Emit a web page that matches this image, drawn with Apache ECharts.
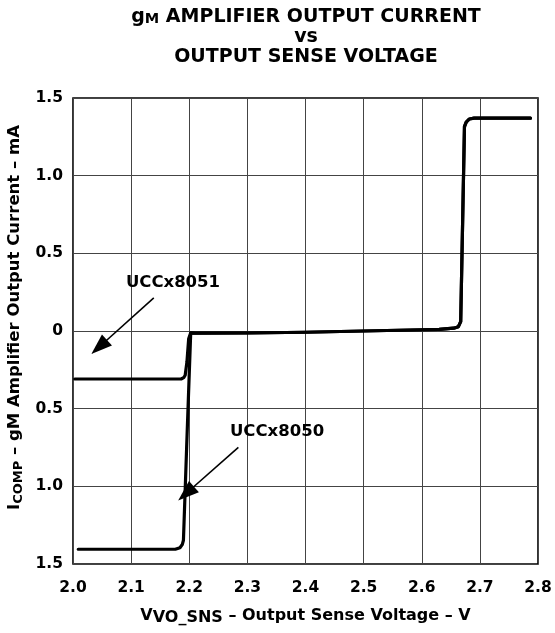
<!DOCTYPE html>
<html><head><meta charset="utf-8">
<script src="https://cdn.jsdelivr.net/npm/echarts@6/dist/echarts.min.js"></script>
<style>html,body{margin:0;padding:0;background:#fff}#c{width:555px;height:633px}</style>
</head><body><div id="c"></div>
<script>
// ---- data ----
const seriesNames = ['UCCx8051', 'UCCx8050'];
// UCCx8051 low-side plateau and rise, V (x) and mA (y)
const ucc8051 = [[2.003,-0.309],[2.186,-0.309],[2.1905,-0.300],[2.193,-0.285],[2.196,-0.200],[2.199,-0.050],[2.2025,-0.012]];
// UCCx8050 low-side plateau and rise
const ucc8050 = [[2.009,-1.405],[2.176,-1.405],[2.184,-1.395],[2.188,-1.375],[2.190,-1.347],[2.1955,-0.750],[2.2025,-0.012]];
// common part of both curves
const shared = [[2.2025,-0.012],[2.21,-0.014],[2.3,-0.013],[2.4,-0.008],[2.5,0.000],[2.6,0.008],[2.63,0.010],[2.655,0.018],[2.663,0.028],[2.667,0.060],[2.6735,1.316],[2.6765,1.345],[2.682,1.365],[2.69,1.370],[2.787,1.370]];
const xRange = [2.0, 2.8, 0.1];
const yRange = [-1.5, 1.5, 0.5];

// annotation anchors (data units)
const note8051 = {text: 'UCCx8051', at: [2.172, 0.309], from: [2.139, 0.213], to: [2.045, -0.103]};
const note8050 = {text: 'UCCx8050', at: [2.351, -0.651], from: [2.2845, -0.749], to: [2.1945, -1.046]};

const FONT = 'DejaVu Sans';
const chart = echarts.init(document.getElementById('c'), null, {renderer: 'canvas'});

function noteMarks(n) {
  return {
    markLine: {
      silent: true, animation: false,
      symbol: ['none', 'triangle'], symbolSize: [15, 21],
      label: {show: false},
      lineStyle: {color: '#000', width: 1.6, type: 'solid'},
      emphasis: {disabled: true},
      data: [[{coord: n.from}, {coord: n.to}]]
    },
    markPoint: {
      silent: true, animation: false,
      symbol: 'circle', symbolSize: 1,
      itemStyle: {color: 'rgba(0,0,0,0)'},
      label: {show: true, position: 'inside', formatter: n.text, color: '#000',
              fontFamily: FONT, fontWeight: 'bold', fontSize: 16.5},
      data: [{coord: n.at}]
    }
  };
}

const lineStyle = {color: '#000', width: 3.2, cap: 'round', join: 'round'};

chart.setOption({
  animation: false,
  backgroundColor: '#fff',
  title: {
    left: 306, top: 7, padding: 0, textAlign: 'center',
    text: '{a|g}{s|M}{a| AMPLIFIER OUTPUT CURRENT}\n{a|vs}\n{a|OUTPUT SENSE VOLTAGE}',
    textStyle: {
      rich: {
        a: {fontFamily: FONT, fontWeight: 'bold', fontSize: 19, lineHeight: 20, color: '#000'},
        s: {fontFamily: FONT, fontWeight: 'bold', fontSize: 14.5, lineHeight: 12, verticalAlign: 'bottom', color: '#000'}
      }
    }
  },
  grid: {left: 73, right: 17, top: 98, bottom: 69, containLabel: false, outerBoundsMode: 'none',
         show: true, borderColor: '#000', borderWidth: 1.6, backgroundColor: 'transparent'},
  xAxis: {
    type: 'value', min: xRange[0], max: xRange[1], interval: xRange[2],
    axisLine: {show: false}, axisTick: {show: false},
    splitLine: {show: true, lineStyle: {color: '#444', width: 1}},
    axisLabel: {margin: 16, color: '#000', fontFamily: FONT, fontWeight: 'bold', fontSize: 15.5,
                formatter: v => v.toFixed(1)},
    name: '{v|V}{sub|VO_SNS}{n| – Output Sense Voltage – V}',
    nameLocation: 'middle', nameGap: 42,
    nameTextStyle: {
      rich: {
        v: {fontFamily: FONT, fontWeight: 'bold', fontSize: 16, lineHeight: 20, color: '#000'},
        sub: {fontFamily: FONT, fontWeight: 'bold', fontSize: 16, lineHeight: 11, verticalAlign: 'bottom', color: '#000'},
        n: {fontFamily: FONT, fontWeight: 'bold', fontSize: 16, lineHeight: 20, color: '#000'}
      }
    }
  },
  yAxis: {
    type: 'value', min: yRange[0], max: yRange[1], interval: yRange[2],
    axisLine: {show: false}, axisTick: {show: false},
    splitLine: {show: true, lineStyle: {color: '#444', width: 1}},
    axisLabel: {margin: 10, color: '#000', fontFamily: FONT, fontWeight: 'bold', fontSize: 15.5,
                formatter: v => (Math.abs(v) < 1e-9 ? '0' : Math.abs(v).toFixed(1))},
    name: '{i|I}{sub|COMP}{n| – gM Amplifier Output Current – mA}',
    nameLocation: 'middle', nameGap: 48,
    nameTextStyle: {
      padding: [0, 0, 0, 27],
      rich: {
        i: {fontFamily: FONT, fontWeight: 'bold', fontSize: 16.5, lineHeight: 20, color: '#000'},
        sub: {fontFamily: FONT, fontWeight: 'bold', fontSize: 13, lineHeight: 12, verticalAlign: 'bottom', color: '#000'},
        n: {fontFamily: FONT, fontWeight: 'bold', fontSize: 16.5, lineHeight: 20, color: '#000'}
      }
    }
  },
  series: [
    Object.assign({
      name: seriesNames[0], type: 'line', showSymbol: false, symbol: 'none',
      data: ucc8051.concat(shared), lineStyle: lineStyle, silent: true, z: 3
    }, noteMarks(note8051)),
    Object.assign({
      name: seriesNames[1], type: 'line', showSymbol: false, symbol: 'none',
      data: ucc8050.concat(shared), lineStyle: lineStyle, silent: true, z: 3
    }, noteMarks(note8050))
  ]
});
</script></body></html>
